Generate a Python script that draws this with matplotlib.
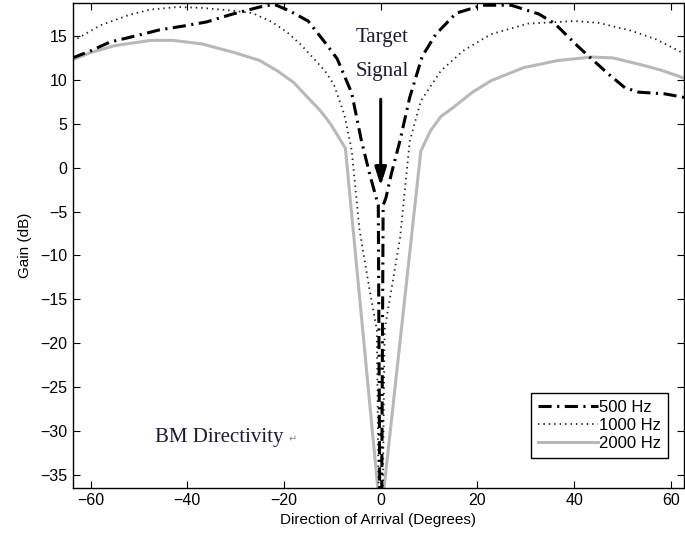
import matplotlib
matplotlib.use('Agg')
import matplotlib.pyplot as plt

# beam pattern (angle in degrees, gain in dB)
ang_500 = [-63.7, -60, -56, -50, -45.7, -40, -36, -30.6, -25, -22, -19, -15,
           -11.3, -9, -6, -4, -2.3, -0.5, 0, 0.5, 1.1, 2.2, 4, 6, 8.6, 11.4,
           15.6, 21, 27, 32.7, 36, 41, 47, 50.5, 53.3, 58.8, 62.7]
gain_500 = [12.5, 13.3, 14.3, 15.1, 15.7, 16.2, 16.6, 17.5, 18.3, 18.6, 17.9, 16.7,
            14.1, 12.4, 8.5, 3.1, -0.7, -4.3, -60, -4.3, -3.4, -0.7, 3.1, 8.0, 12.7, 15.2,
            17.6, 18.5, 18.5, 17.5, 16.4, 13.7, 10.7, 9.1, 8.6, 8.4, 8.0]

ang_1000 = [-63.7, -58, -52, -47.7, -42, -37, -31, -26.5, -22.5, -19.3, -16.5,
            -13.8, -11.5, -9.7, -7.5, -6, -4.4, -2.4, -0.8, 0, 0.8, 2.3, 4, 6,
            8.3, 12.4, 17, 22.8, 30.4, 40, 45, 51.8, 57, 62.7]
gain_1000 = [14.4, 16.2, 17.4, 18.0, 18.3, 18.2, 17.9, 17.6, 16.6, 15.4, 14.0,
             12.4, 11.0, 9.5, 6.0, 2.0, -7.0, -13.6, -18.5, -60, -18.5, -13.6, -8.0, 3.0,
             7.6, 11.0, 13.3, 15.2, 16.4, 16.7, 16.5, 15.6, 14.6, 13.0]

ang_2000 = [-63.7, -60, -55, -47.5, -43, -37, -30.2, -25, -21.3, -18, -15.1,
            -12.5, -10.4, -7.3, 0, 8.3, 10.3, 12.4, 15.1, 19, 22.8, 29.6, 36.6,
            43.6, 48, 54, 58, 62.7]
gain_2000 = [12.3, 13.1, 13.9, 14.5, 14.5, 14.1, 13.1, 12.2, 11.0, 9.7, 8.0,
             6.5, 5.0, 2.2, -40, 1.9, 4.2, 5.8, 6.9, 8.6, 9.9, 11.4, 12.2,
             12.6, 12.5, 11.7, 11.1, 10.2]

x_ticks = [-60, -40, -20, 0, 20, 40, 60]
y_ticks = [-35, -30, -25, -20, -15, -10, -5, 0, 5, 10, 15]

plt.rcParams['font.family'] = ['Liberation Sans', 'DejaVu Sans']

fig = plt.figure(figsize=(6.85, 5.45), dpi=100)
ax = fig.add_axes([0.106, 0.1046, 0.8925, 0.889])

ax.plot(ang_500, gain_500, color='black', lw=2.2,
        linestyle=(0, (4.3, 1.8, 0.7, 1.8)), label='500 Hz', zorder=3)
ax.plot(ang_1000, gain_1000, color='#222222', lw=1.3,
        linestyle=(0, (0.8, 2.2)), label='1000 Hz', zorder=2)
ax.plot(ang_2000, gain_2000, color='#b8b8b8', lw=2.2,
        linestyle='-', label='2000 Hz', zorder=1)

ax.set_xlim(-63.7, 62.7)
ax.set_ylim(-36.5, 18.7)
ax.set_xticks(x_ticks)
ax.set_yticks(y_ticks)
ax.tick_params(direction='in', length=5, width=0.8, top=True, right=True,
               labelsize=11.5, colors='black')
for s in ax.spines.values():
    s.set_linewidth(1.0)

ax.set_xlabel('Direction of Arrival (Degrees)', fontsize=11, labelpad=4)
ax.set_ylabel('Gain (dB)', fontsize=11, labelpad=6)

# annotations
serif = ['Liberation Serif', 'DejaVu Serif']
ax.text(0.3, 14.8, 'Target', family=serif, fontsize=15, color='#1a1a33',
        ha='center', va='center', zorder=5)
ax.text(0.3, 10.9, 'Signal', family=serif, fontsize=15, color='#1a1a33',
        ha='center', va='center', zorder=5)
ax.annotate('', xy=(0, -2.4), xytext=(0, 8.1),
            arrowprops=dict(arrowstyle='-|>,head_length=1.1,head_width=0.35',
                            color='black', lw=2.2), zorder=5)
ax.text(-33.4, -30.7, 'BM Directivity', family=serif, fontsize=15,
        color='#1a1a33', ha='center', va='center')
ax.text(-19.0, -31.0, '\u21b5', family=['DejaVu Sans'], fontsize=7,
        color='#888888', ha='left', va='center')

leg = ax.legend(loc='lower right', bbox_to_anchor=(0.974, 0.062),
                borderaxespad=0, fontsize=12, handlelength=3.6,
                handletextpad=0.1, labelspacing=0.2, borderpad=0.4,
                fancybox=False, framealpha=1)
leg.get_frame().set_edgecolor('black')
leg.get_frame().set_linewidth(1.0)

plt.savefig('out.png', dpi=100)
